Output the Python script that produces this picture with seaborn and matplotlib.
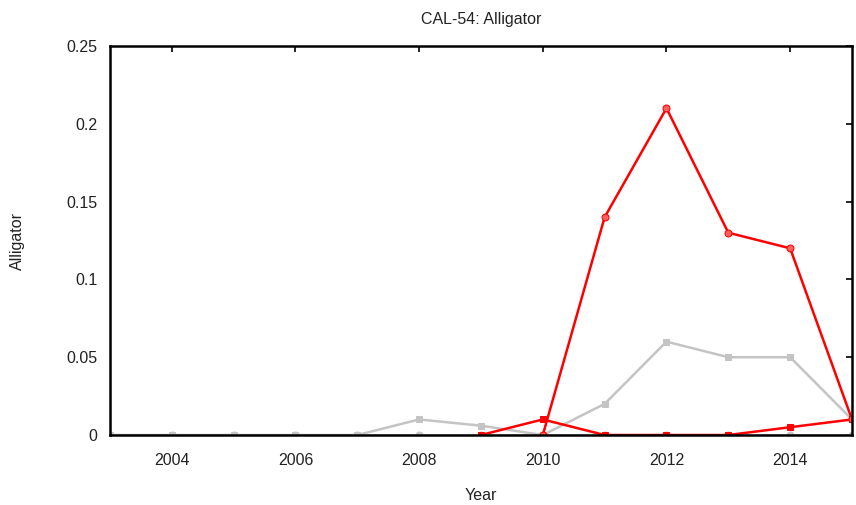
import matplotlib
matplotlib.use("Agg")
import matplotlib.pyplot as plt
import seaborn as sns
import pandas as pd

years = list(range(2003, 2016))
red_circle_years = [2010, 2011, 2012, 2013, 2014, 2015]
red_circle_vals = [0.0, 0.14, 0.21, 0.13, 0.12, 0.01]
red_square_years = [2009, 2010, 2011, 2012, 2013, 2014, 2015]
red_square_vals = [0.0, 0.01, 0.0, 0.0, 0.0, 0.005, 0.01]
gray_square_vals = [0.0, 0.0, 0.0, 0.0, 0.0, 0.01, 0.006, 0.0, 0.02, 0.06, 0.05, 0.05, 0.01]
gray_circle_vals = [0.0] * 13

xticks = [2004, 2006, 2008, 2010, 2012, 2014]
yticks = [0, 0.05, 0.1, 0.15, 0.2, 0.25]
ytick_labels = ["0", "0.05", "0.1", "0.15", "0.2", "0.25"]

sns.set_style("white")
plt.rcParams['font.family'] = ['Liberation Sans', 'DejaVu Sans']

fig = plt.figure(figsize=(8.56, 5.05), dpi=100)
ax = fig.add_axes([0.1285, 0.1386, 0.8668, 0.7703])

gray = "#c4c4c4"
red = "#ff0000"

df_gc = pd.DataFrame({"Year": years, "v": gray_circle_vals})
df_gs = pd.DataFrame({"Year": years, "v": gray_square_vals})
df_rs = pd.DataFrame({"Year": red_square_years, "v": red_square_vals})
df_rc = pd.DataFrame({"Year": red_circle_years, "v": red_circle_vals})

sns.lineplot(data=df_gc, x="Year", y="v", ax=ax, color=gray, marker="o",
             markersize=5, linewidth=1.8, markeredgecolor=gray)
sns.lineplot(data=df_gs, x="Year", y="v", ax=ax, color=gray, marker="s",
             markersize=5, linewidth=1.8, markeredgecolor=gray)
sns.lineplot(data=df_rs, x="Year", y="v", ax=ax, color=red, marker="s",
             markersize=5, linewidth=1.8, markeredgecolor=red)
sns.lineplot(data=df_rc, x="Year", y="v", ax=ax, color=red, marker="o",
             markersize=5, linewidth=1.8, markeredgecolor=red,
             markerfacecolor="#ff6060")

ax.set_xlim(2003, 2015)
ax.set_ylim(0, 0.25)
ax.set_xticks(xticks)
ax.set_yticks(yticks)
ax.set_yticklabels(ytick_labels)
ax.tick_params(direction="in", length=4, width=1.2, top=True, right=True,
               labelsize=11.5, colors="black", labelcolor="#222222")
ax.tick_params(axis="x", pad=13)
ax.tick_params(axis="y", pad=9)
for s in ax.spines.values():
    s.set_visible(True)
    s.set_color("black")
    s.set_linewidth(1.8)

ax.set_xlabel("Year", fontsize=11.5, labelpad=14, color="#222222")
ax.set_ylabel("Alligator", fontsize=11.5, labelpad=30, color="#222222")
ax.set_title("CAL-54: Alligator", fontsize=11.5, pad=16, color="#222222")

fig.savefig("out.png", dpi=100)
